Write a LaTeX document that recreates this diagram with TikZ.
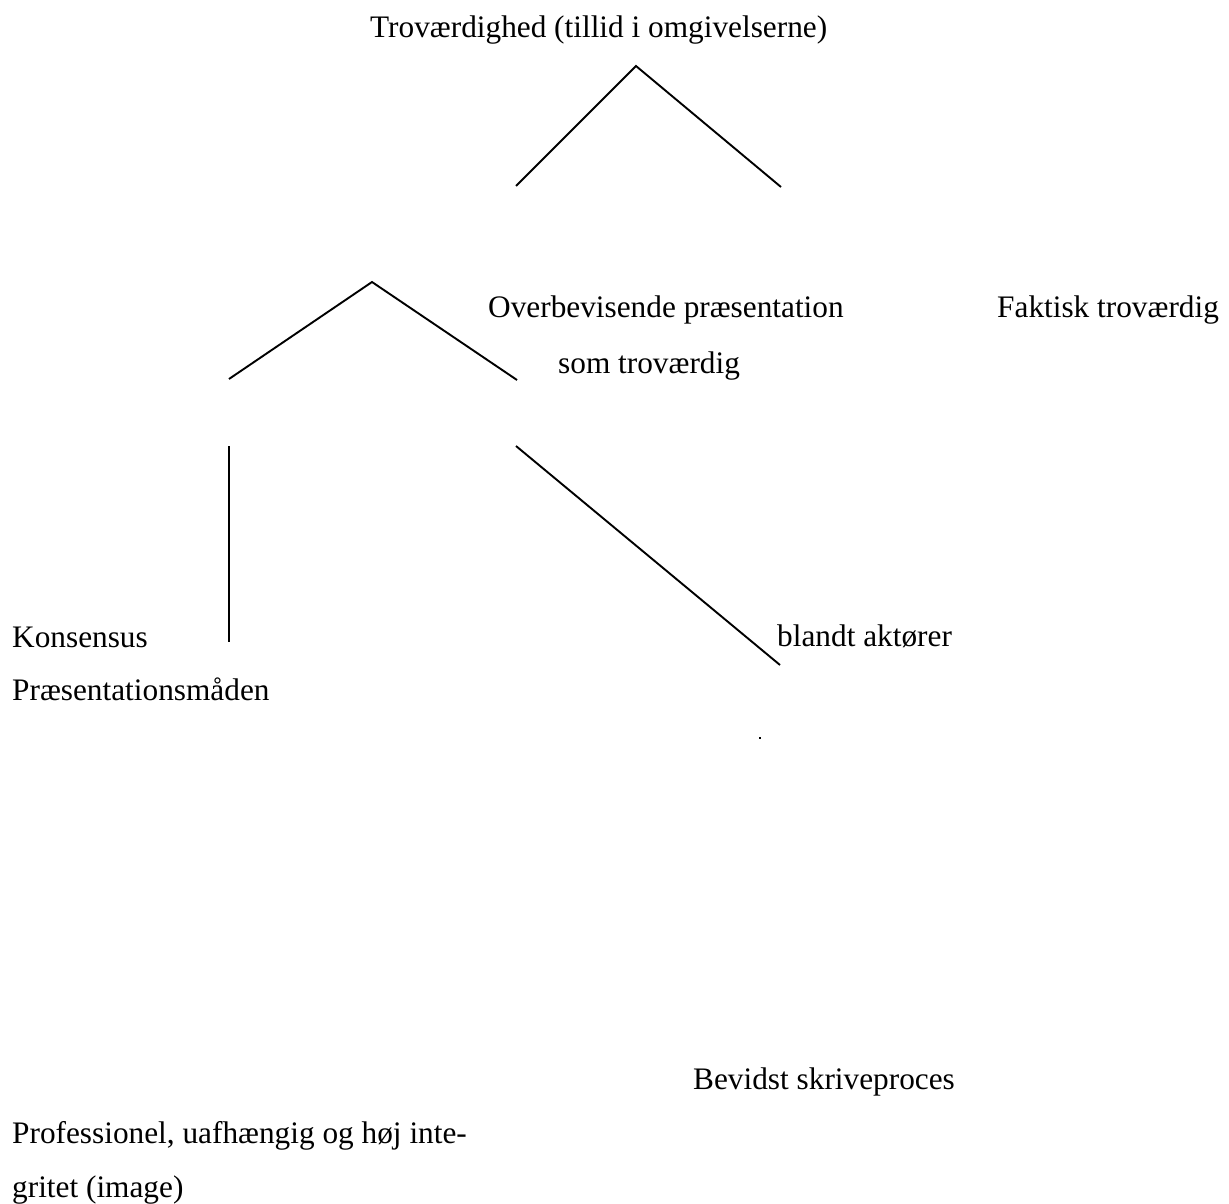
\documentclass[tikz,border=0pt]{standalone}
\usepackage{fontspec}
\setmainfont{Liberation Serif}
\begin{document}
\begin{tikzpicture}[x=1pt,y=-1pt,
  lbl/.style={anchor=base west,inner sep=0pt,font=\fontsize{31.3}{52}\selectfont},
  conn/.style={line width=1.9pt,black}]
\useasboundingbox (0,0) rectangle (1229,1204);
\fill[white] (0,0) rectangle (1229,1204);
% texts
\node[lbl] (title) at (370,38) {Troværdighed (tillid i omgivelserne)};
\node[lbl] (overb) at (488,317) {Overbevisende præsentation};
\node[lbl] (somtro) at (558,373) {som troværdig};
\node[lbl] (faktisk) at (997,317) {Faktisk troværdig};
\node[lbl] (kons) at (12,647) {Konsensus};
\node[lbl] (blandt) at (777,646) {blandt aktører};
\node[lbl] (praes) at (12,700) {Præsentationsmåden};
\node[lbl] (bevidst) at (693,1089) {Bevidst skriveproces};
\node[lbl] (prof1) at (12,1143) {Professionel, uafhængig og høj inte-};
\node[lbl] (prof2) at (12,1197) {gritet (image)};
% connector end points
\coordinate (a1) at (636,66);
\coordinate (a1l) at (516,186);
\coordinate (a1r) at (781,187);
\coordinate (a2) at (372,282);
\coordinate (a2l) at (229,379);
\coordinate (a2r) at (517,380);
\coordinate (v1) at (229,446);
\coordinate (v2) at (229,642);
\coordinate (d1) at (516,446);
\coordinate (d2) at (780,665);
\draw[conn] (a1l) -- (a1) -- (a1r);
\draw[conn] (a2l) -- (a2) -- (a2r);
\draw[conn] (v1) -- (v2);
\draw[conn] (d1) -- (d2);
\fill[black] (759.2,737.2) rectangle (760.8,738.8);
\end{tikzpicture}
\end{document}
